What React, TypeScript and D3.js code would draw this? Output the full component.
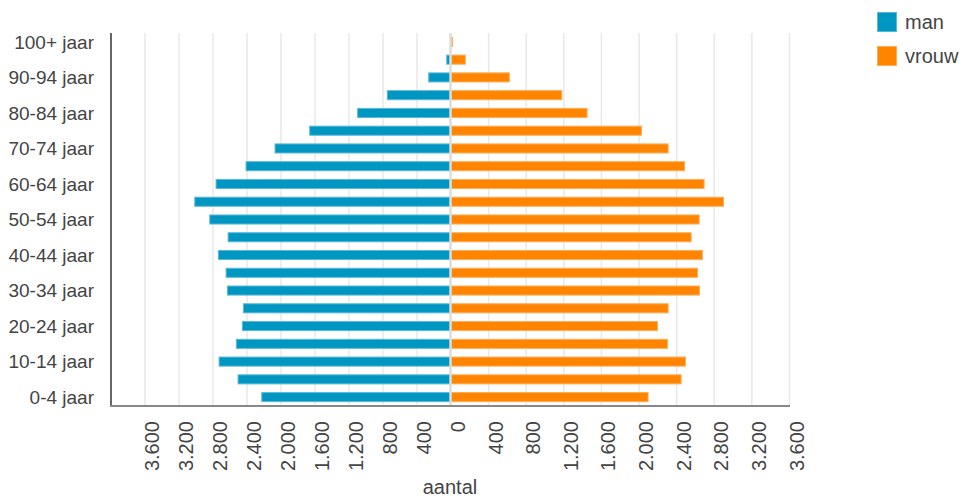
import React from 'react';
import * as d3 from 'd3';

// age groups, bottom to top
const ageGroups = [
  '0-4 jaar', '5-9 jaar', '10-14 jaar', '15-19 jaar', '20-24 jaar', '25-29 jaar',
  '30-34 jaar', '35-39 jaar', '40-44 jaar', '45-49 jaar', '50-54 jaar', '55-59 jaar',
  '60-64 jaar', '65-69 jaar', '70-74 jaar', '75-79 jaar', '80-84 jaar', '85-89 jaar',
  '90-94 jaar', '95-99 jaar', '100+ jaar',
];

const manValues = [
  2226, 2505, 2728, 2525, 2454, 2442, 2630, 2646, 2736, 2622, 2838,
  3014, 2764, 2411, 2070, 1662, 1098, 749, 262, 50, 2,
];

const vrouwValues = [
  2096, 2447, 2493, 2302, 2195, 2309, 2642, 2621, 2674, 2554, 2639,
  2898, 2692, 2483, 2309, 2025, 1447, 1178, 620, 152, 15,
];

const tickValues = [400, 800, 1200, 1600, 2000, 2400, 2800, 3200, 3600];

const seriesNames = ['man', 'vrouw'];
const seriesColors = ['#0096c2', '#ff8400'];
const seriesStrokes = ['#5ab8d6', '#ffac55'];

const W = 963;
const H = 497;
const plotTop = 33;
const plotBottom = 406;
const zeroX = 451;

const fmt = (v: number) => d3.format(',')(v).replace(/,/g, '.');

export default function App() {
  const xLeft = d3.scaleLinear().domain([0, 4000]).range([zeroX, 111]);
  const xRight = d3.scaleLinear().domain([0, 3600]).range([zeroX, 789.5]);

  const y = d3.scaleBand<string>()
    .domain([...ageGroups].reverse())
    .range([plotTop, plotBottom])
    .paddingInner(0.49)
    .paddingOuter(0.245);

  const bh = y.bandwidth();
  const font = '"Liberation Sans", Arial, sans-serif';

  return (
    <svg width={W} height={H} style={{ position: 'absolute', left: 0, top: 0 }} fontFamily={font}>
      {/* gridlines */}
      {tickValues.map((t) => (
        <g key={'g' + t}>
          <line x1={xLeft(t)} x2={xLeft(t)} y1={plotTop} y2={plotBottom} stroke="#e8e8e8" strokeWidth={1.5} />
          <line x1={xRight(t)} x2={xRight(t)} y1={plotTop} y2={plotBottom} stroke="#e8e8e8" strokeWidth={1.5} />
        </g>
      ))}

      {/* bars */}
      {ageGroups.map((g, i) => (
        <g key={g}>
          {manValues[i] > 0 && (
            <rect
              x={xLeft(manValues[i])}
              y={(y(g) as number)}
              width={zeroX - xLeft(manValues[i])}
              height={bh}
              fill={seriesColors[0]}
              stroke={seriesStrokes[0]}
              strokeWidth={1}
            />
          )}
          <rect
            x={zeroX}
            y={(y(g) as number)}
            width={xRight(vrouwValues[i]) - zeroX}
            height={bh}
            fill={seriesColors[1]}
            stroke={seriesStrokes[1]}
            strokeWidth={1}
          />
        </g>
      ))}

      {/* zero line */}
      <line x1={zeroX - 0.5} x2={zeroX - 0.5} y1={plotTop} y2={plotBottom} stroke="#dcdcdc" strokeWidth={2.5} />

      {/* axes */}
      <line x1={111} x2={111} y1={plotTop} y2={plotBottom + 1} stroke="#666" strokeWidth={2} />
      <line x1={110} x2={790} y1={plotBottom} y2={plotBottom} stroke="#888" strokeWidth={2} />

      {/* y labels, every other group */}
      {ageGroups.map((g, i) =>
        i % 2 === 0 ? (
          <text key={'l' + g} x={94} y={(y(g) as number) + bh / 2} dy="0.35em" textAnchor="end" fontSize={19} fill="#444">
            {g}
          </text>
        ) : null
      )}

      {/* x tick labels */}
      {[...tickValues.map((t) => ({ v: t, x: xLeft(t) })), { v: 0, x: zeroX }, ...tickValues.map((t) => ({ v: t, x: xRight(t) }))].map((d, i) => (
        <text
          key={'t' + i}
          transform={`translate(${d.x + 14},421) rotate(-90)`}
          textAnchor="end"
          fontSize={20}
          fill="#444"
        >
          {fmt(d.v)}
        </text>
      ))}

      <text x={450} y={494} textAnchor="middle" fontSize={20} fill="#444">aantal</text>

      {/* legend */}
      {seriesNames.map((n, i) => (
        <g key={n} transform={`translate(877,${12 + i * 34})`}>
          <rect x={0.5} y={0.5} width={19} height={19} fill={seriesColors[i]} stroke={seriesStrokes[i]} strokeWidth={1} />
          <text x={28} y={16.5} fontSize={20} fill="#444">{n}</text>
        </g>
      ))}
    </svg>
  );
}
